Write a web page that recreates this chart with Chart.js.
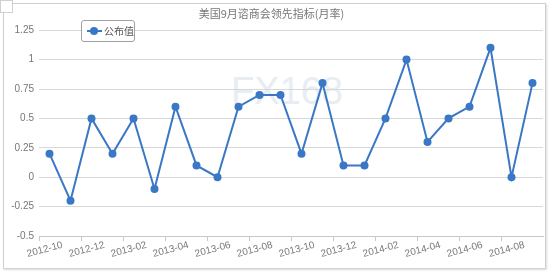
<!DOCTYPE html>
<html>
<head>
<meta charset="utf-8">
<script src="https://cdn.jsdelivr.net/npm/chart.js@4"></script>
<style>
  html, body { margin: 0; padding: 0; background: #fff; }
  #wrap { position: relative; width: 550px; height: 271px; overflow: hidden; }
  #frame { position: absolute; left: 3px; top: 3px; width: 541px; height: 264px; border: 1px solid #d0d0d0; box-shadow: 1px 1px 2px rgba(0,0,0,0.15); }
  #corner { position: absolute; left: 0; top: 0; width: 11px; height: 11px; border: 1px solid #d0d0d0; background: #fff; }
  #mark { position: absolute; left: 231px; top: 70px; font: 38px "Liberation Sans", Arial, sans-serif; color: #e8edf3; }
  #legend { position: absolute; left: 81px; top: 20px; width: 52px; height: 20px; border: 1px solid #a0a0a0; border-radius: 3px; background: #fff; }
  #legend .ln { position: absolute; left: 5px; top: 9px; width: 15px; height: 2px; background: #3a78c6; }
  #legend .dot { position: absolute; left: 8px; top: 6px; width: 8px; height: 8px; border-radius: 50%; background: #3a78c6; }
  #legend .tx { position: absolute; left: 22px; top: 2px; font: 10px "Noto Sans CJK SC", sans-serif; color: #555; white-space: nowrap; }
  canvas { position: absolute; left: 0; top: 0; }
</style>
</head>
<body>
<div id="wrap">
  <div id="frame"></div>
  <div id="corner"></div>
  <div id="mark">FX168</div>
  <canvas id="chart" width="550" height="271"></canvas>
  <div id="legend"><div class="ln"></div><div class="dot"></div><div class="tx" id="legendText"></div></div>
</div>
<script>
const months = ['2012-10', '2012-11', '2012-12', '2013-01', '2013-02', '2013-03', '2013-04', '2013-05',
    '2013-06', '2013-07', '2013-08', '2013-09', '2013-10', '2013-11', '2013-12', '2014-01',
    '2014-02', '2014-03', '2014-04', '2014-05', '2014-06', '2014-07', '2014-08', '2014-09'];
const values = [0.2, -0.2, 0.5, 0.2, 0.5, -0.1, 0.6, 0.1, 0, 0.6, 0.7, 0.7,
    0.2, 0.8, 0.1, 0.1, 0.5, 1.0, 0.3, 0.5, 0.6, 1.1, 0, 0.8];
const seriesName = '公布值';
const titleText = '美国9月谘商会领先指标(月率)';

const blue = '#3a78c6';
const tickFont = { family: 'Liberation Sans', size: 10 };

document.getElementById('legendText').textContent = seriesName;

new Chart(document.getElementById('chart'), {
    type: 'line',
    data: {
        labels: months,
        datasets: [{
            label: seriesName,
            data: values,
            borderColor: blue,
            backgroundColor: blue,
            borderWidth: 2,
            pointRadius: 4,
            pointBorderWidth: 0,
            tension: 0,
            fill: false
        }]
    },
    options: {
        responsive: false,
        animation: false,
        layout: { padding: { left: 0, right: 7, top: 0, bottom: 0 } },
        plugins: {
            legend: { display: false },
            tooltip: { enabled: false },
            title: {
                display: true,
                text: titleText,
                color: '#777',
                font: { family: 'Noto Sans CJK SC', size: 11, weight: 'normal' },
                padding: { top: 7, bottom: 10 }
            }
        },
        scales: {
            x: {
                offset: true,
                grid: {
                    offset: true,
                    drawOnChartArea: false,
                    tickLength: 5,
                    tickColor: ctx => ctx.index % 2 === 0 ? '#c8c8c8' : 'rgba(0,0,0,0)'
                },
                border: { display: true, color: '#c8c8c8' },
                ticks: {
                    autoSkip: false,
                    minRotation: 15,
                    maxRotation: 15,
                    labelOffset: 13,
                    padding: -2,
                    color: '#777',
                    font: tickFont,
                    callback: function (v, i) { return i % 2 === 0 ? this.getLabelForValue(v) : ''; }
                },
                afterFit: s => { s.height = 35; }
            },
            y: {
                min: -0.5,
                max: 1.25,
                grid: { color: '#d8d8d8', drawTicks: false },
                border: { display: false },
                ticks: {
                    stepSize: 0.25,
                    padding: 5,
                    color: '#777',
                    font: tickFont,
                    callback: v => String(Math.round(v * 100) / 100)
                },
                afterFit: s => { s.width = 39; }
            }
        }
    }
});
</script>
</body>
</html>
